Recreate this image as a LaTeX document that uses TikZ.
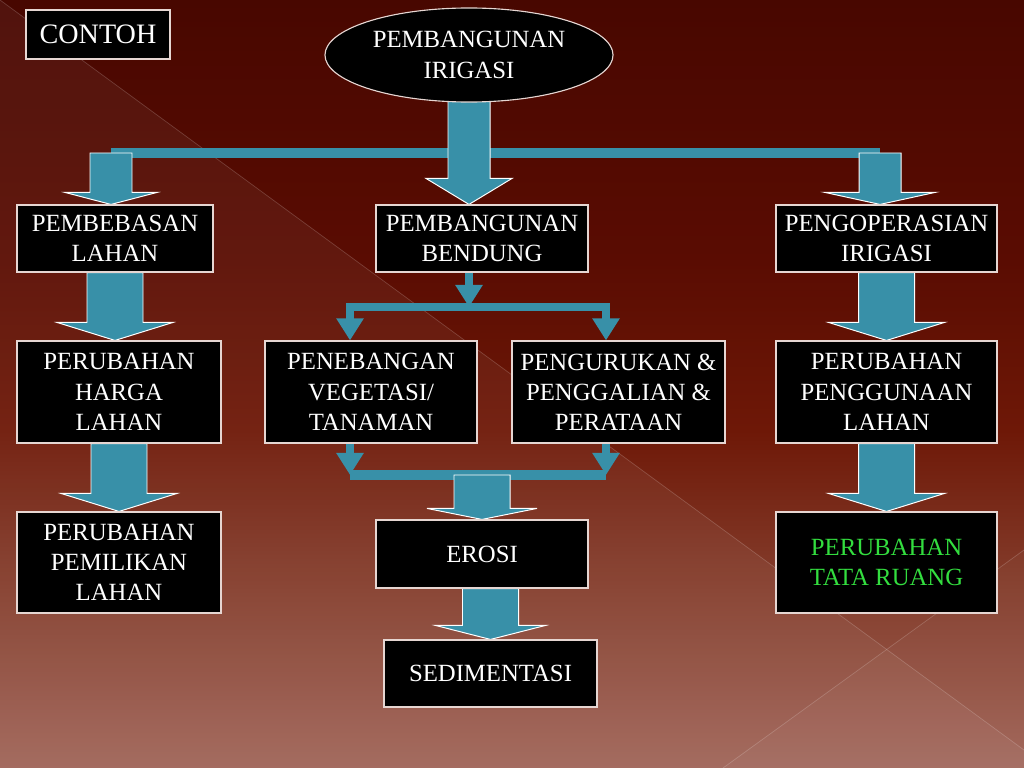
\documentclass[tikz,border=0pt]{standalone}
\usepackage{fontspec}
\setmainfont{Liberation Serif}
\usetikzlibrary{positioning, arrows.meta, calc, shapes.geometric}
\definecolor{bgtop}{HTML}{480700}
\definecolor{bgupper}{HTML}{5A0C02}
\definecolor{bgmid}{HTML}{6E1807}
\definecolor{bglow}{HTML}{86402F}
\definecolor{bgbot}{HTML}{A06458}
\definecolor{arrowblue}{HTML}{3890A8}
\definecolor{boxline}{HTML}{E6D6D2}
\definecolor{tatagreen}{HTML}{33DD3F}
\pgfdeclareverticalshading{slide}{100bp}{color(0bp)=(bgbot); color(25bp)=(bgbot);
  color(36bp)=(bglow); color(47bp)=(bgmid); color(58bp)=(bgupper); color(75bp)=(bgtop);
  color(100bp)=(bgtop)}
\pgfdeclarelayer{back}
\pgfdeclarelayer{mid}
\pgfsetlayers{back,mid,main}
\tikzset{
  box/.style 2 args={draw=boxline, line width=0.8pt, fill=black, text=white, align=center,
    inner sep=0pt, minimum width=#1, minimum height=#2, font=\fontsize{17.6}{21.5}\selectfont},
  blockarrow/.style={fill=arrowblue, draw=white, line width=0.7pt, line join=miter},
  bar/.style={draw=arrowblue, line width=0.25cm},
  wire/.style={draw=arrowblue, line width=0.2cm, -{Triangle[width=0.65cm, length=0.55cm]}},
  fork/.style={draw=arrowblue, line width=0.22cm, line join=miter,
    {Triangle[width=0.65cm, length=0.55cm]}-{Triangle[width=0.65cm, length=0.55cm]}}
}
% block arrow pointing down: from, to, half shaft, half head, head length (px)
\newcommand{\blockdown}[5]{%
  \draw[blockarrow] ($(#1)+(-#3,0)$) -- ($(#1)+(#3,0)$) -- ($(#2)+(#3,-#5)$)
    -- ($(#2)+(#4,-#5)$) -- (#2) -- ($(#2)+(-#4,-#5)$) -- ($(#2)+(-#3,-#5)$) -- cycle;}

\begin{document}
\begin{tikzpicture}[x=0.025cm, y=-0.025cm]
    \useasboundingbox (0,0) rectangle (1024,768);
    \begin{pgfonlayer}{back}
      \shade[shading=slide] (0,0) rectangle (1024,768);
      \fill[white, opacity=0.05] (0,0) -- (1024,750) -- (1024,768) -- (0,768) -- cycle;
      \fill[white, opacity=0.03] (723,768) -- (1024,550) -- (1024,768) -- cycle;
      \draw[white, opacity=0.18, line width=0.5pt] (0,0) -- (1024,750);
      \draw[white, opacity=0.18, line width=0.5pt] (723,768) -- (1024,550);
    \end{pgfonlayer}

    \node[box={3.6cm}{1.225cm}, font=\fontsize{20}{24}\selectfont] (contoh) at (98,34.5) {CONTOH};
    \node[box={7.2cm}{2.35cm}, ellipse] (irig) at (469,55) {PEMBANGUNAN\\IRIGASI};
    \node[box={4.9cm}{1.675cm}] (pbl) at (115,238.5) {PEMBEBASAN\\LAHAN};
    \node[box={5.3cm}{1.675cm}] (pbd) at (482,238.5) {PEMBANGUNAN\\BENDUNG};
    \node[box={5.525cm}{1.675cm}] (poi) at (886.5,238.5) {PENGOPERASIAN\\IRIGASI};
    \node[box={5.1cm}{2.55cm}] (phl) at (119,392) {PERUBAHAN\\HARGA\\LAHAN};
    \node[box={5.3cm}{2.55cm}] (pvt) at (371,392) {PENEBANGAN\\VEGETASI/\\TANAMAN};
    \node[box={5.325cm}{2.55cm}] (ppp) at (618.5,392) {PENGURUKAN \&\\PENGGALIAN \&\\PERATAAN};
    \node[box={5.525cm}{2.55cm}] (ppl) at (886.5,392) {PERUBAHAN\\PENGGUNAAN\\LAHAN};
    \node[box={5.1cm}{2.525cm}] (ppm) at (119,562.5) {PERUBAHAN\\PEMILIKAN\\LAHAN};
    \node[box={5.3cm}{1.7cm}] (ero) at (482,554) {EROSI};
    \node[box={5.325cm}{1.675cm}] (sed) at (490.5,673.5) {SEDIMENTASI};
    \node[box={5.525cm}{2.525cm}, text=tatagreen] (ptr) at (886.5,562.5) {PERUBAHAN\\TATA RUANG};

    \coordinate (tl) at (111,153);
    \coordinate (tr) at (880,153);
    \coordinate (sl) at (350,307);
    \coordinate (sr) at (606,307);
    \coordinate (jl) at (350,475);
    \coordinate (jr) at (606,475);
    \coordinate (irigfoot) at ($(irig.south)+(0,-8)$);
    \coordinate (jm) at (ero.north |- jl);

    \begin{pgfonlayer}{mid}
      \draw[bar] (tl) -- (tr);
      \blockdown{irigfoot}{irig.south |- pbd.north}{21}{43}{26}
      \blockdown{tl}{tl |- pbl.north}{21}{46}{12}
      \blockdown{tr}{tr |- poi.north}{21}{55}{12}
      \blockdown{pbl.south}{pbl.south |- phl.north}{28}{58}{18}
      \blockdown{phl.south}{phl.south |- ppm.north}{28}{58}{18}
      \blockdown{poi.south}{poi.south |- ppl.north}{28}{58}{18}
      \blockdown{ppl.south}{ppl.south |- ptr.north}{28}{58}{18}
      \draw[wire] (irig.south |- pbd.south) -- (irig.south |- sl);
      \draw[fork] (sl |- pvt.north) -- (sl) -- (sr) -- (sr |- ppp.north);
      \draw[bar] (jl) -- (jr);
      \draw[wire] (jl |- pvt.south) -- (jl);
      \draw[wire] (jr |- ppp.south) -- (jr);
      \blockdown{jm}{ero.north}{28}{55}{11}
      \blockdown{sed.north |- ero.south}{sed.north}{28}{55}{14}
    \end{pgfonlayer}
  \end{tikzpicture}
\end{document}
